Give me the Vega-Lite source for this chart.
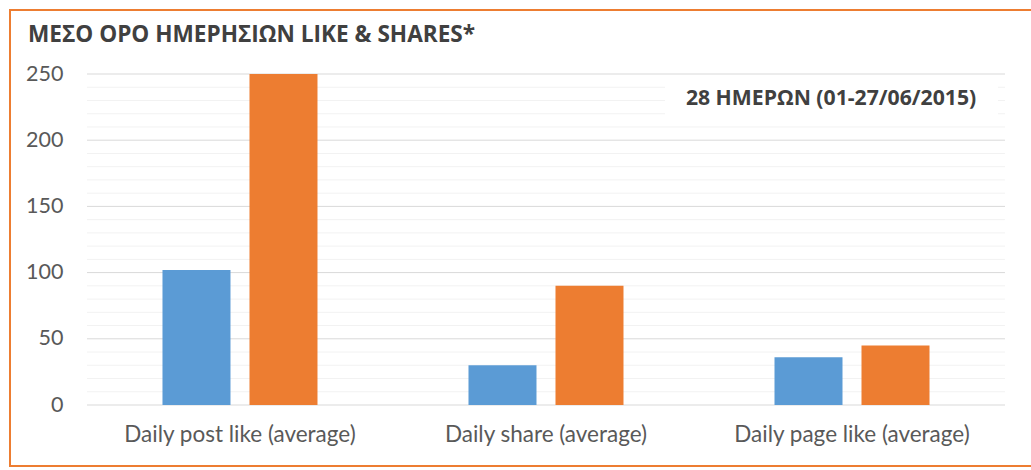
{
  "$schema": "https://vega.github.io/schema/vega-lite/v6.json",
  "width": 1025,
  "height": 456,
  "autosize": {"type": "none"},
  "padding": {"left": 10, "top": 10, "right": -4, "bottom": 4},
  "background": "white",
  "title": {
    "text": "ΜΕΣΟ ΟΡΟ ΗΜΕΡΗΣΙΩΝ LIKE & SHARES*",
    "anchor": "start",
    "frame": "group",
    "offset": 0,
    "dx": 18,
    "dy": 55,
    "baseline": "alphabetic",
    "font": "Open Sans",
    "fontSize": 22.6,
    "fontWeight": "bold",
    "color": "#404040"
  },
  "config": {"view": {"stroke": "#ED7D31", "strokeWidth": 2}},
  "resolve": {"scale": {"x": "independent"}},
  "layer": [
    {
      "layer": [
        {
          "data": {"values": [
            {"v": 0}, {"v": 10}, {"v": 20}, {"v": 30}, {"v": 40}, {"v": 50},
            {"v": 60}, {"v": 70}, {"v": 80}, {"v": 90}, {"v": 100}, {"v": 110},
            {"v": 120}, {"v": 130}, {"v": 140}, {"v": 150}, {"v": 160}, {"v": 170},
            {"v": 180}, {"v": 190}, {"v": 200}, {"v": 210}, {"v": 220}, {"v": 230},
            {"v": 240}, {"v": 250}
          ]},
          "mark": {"type": "rule", "strokeWidth": 1},
          "encoding": {
            "y": {
              "field": "v", "type": "quantitative",
              "scale": {"domain": [-46.07, 298.34], "nice": false, "zero": false},
              "axis": {"title": null, "values": [0, 50, 100, 150, 200, 250], "grid": false, "domain": false, "ticks": false, "tickSize": 0, "labelPadding": 0, "offset": -53, "labelFont": "Lato", "labelFontSize": 21.5, "labelColor": "#595959"}
            },
            "x": {"datum": 0, "type": "quantitative", "scale": {"domain": [-0.08388, 1.03268], "nice": false, "zero": false}, "axis": null},
            "x2": {"datum": 1},
            "color": {"condition": {"test": "datum.v % 50 === 0", "value": "#D9D9D9"}, "value": "#F2F2F2"}
          }
        },
        {
          "data": {"values": [{"note": "28 ΗΜΕΡΩΝ (01-27/06/2015)"}]},
          "mark": {"type": "rect", "fill": "white"},
          "encoding": {
            "x": {"datum": 0.6296, "type": "quantitative"},
            "x2": {"datum": 0.9924},
            "y": {"datum": 212, "type": "quantitative"},
            "y2": {"datum": 248}
          }
        },
        {
          "data": {"values": [{"note": "28 ΗΜΕΡΩΝ (01-27/06/2015)"}]},
          "mark": {"type": "text", "font": "Open Sans", "fontSize": 21.2, "fontWeight": "bold", "color": "#404040", "align": "center", "baseline": "middle"},
          "encoding": {
            "x": {"datum": 0.8105, "type": "quantitative"},
            "y": {"datum": 231, "type": "quantitative"},
            "text": {"field": "note"}
          }
        }
      ]
    },
    {
      "data": {"values": [
        {"metric": "Daily post like (average)", "series": "Series 1", "value": 102},
        {"metric": "Daily post like (average)", "series": "Series 2", "value": 250},
        {"metric": "Daily share (average)", "series": "Series 1", "value": 30},
        {"metric": "Daily share (average)", "series": "Series 2", "value": 90},
        {"metric": "Daily page like (average)", "series": "Series 1", "value": 36},
        {"metric": "Daily page like (average)", "series": "Series 2", "value": 45}
      ]},
      "mark": {"type": "bar"},
      "encoding": {
        "x": {
          "field": "metric", "type": "nominal", "sort": null,
          "scale": {"paddingInner": 0, "paddingOuter": 0.1748, "align": 0.7196},
          "axis": {"title": null, "orient": "bottom", "labelAngle": 0, "labelLimit": 0, "domain": false, "ticks": false, "tickSize": 0, "labelPadding": 0, "offset": -43, "labelFont": "Lato", "labelFontSize": 22.5, "labelColor": "#595959"}
        },
        "xOffset": {"field": "series", "type": "nominal", "scale": {"paddingInner": 0.2184, "paddingOuter": 0.8678}},
        "y": {
          "field": "value", "type": "quantitative",
          "scale": {"domain": [-46.07, 298.34], "nice": false, "zero": false},
          "axis": {"title": null, "values": [0, 50, 100, 150, 200, 250], "grid": false, "domain": false, "ticks": false, "tickSize": 0, "labelPadding": 0, "offset": -53, "labelFont": "Lato", "labelFontSize": 21.5, "labelColor": "#595959"}
        },
        "color": {"field": "series", "type": "nominal", "scale": {"range": ["#5B9BD5", "#ED7D31"]}, "legend": null}
      }
    }
  ]
}
